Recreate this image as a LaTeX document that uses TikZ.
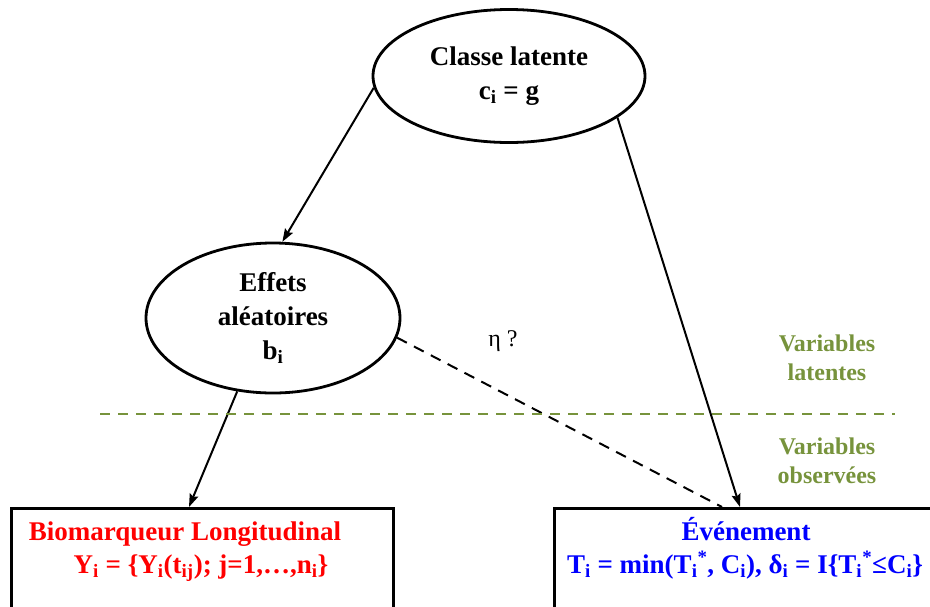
\documentclass[tikz,border=0pt]{standalone}
\usepackage{fontspec}
\setmainfont{Liberation Serif}
\usetikzlibrary{arrows.meta,positioning,shapes.geometric,calc}
\definecolor{biored}{RGB}{255,0,0}
\definecolor{evtblue}{RGB}{0,0,255}
\definecolor{latgreen}{RGB}{119,147,60}

\begin{document}
\begin{tikzpicture}[x=1pt,y=-1pt,
  latent/.style={ellipse, draw, line width=2.8pt, inner sep=0pt, align=center,
    font=\fontsize{27}{34}\selectfont\bfseries},
  obsbox/.style={rectangle, draw, line width=3.2pt, inner sep=0pt},
  link/.style={line width=2pt, -{Stealth[length=13pt,width=9pt,inset=2pt]}},
  boxtext/.style={anchor=base, font=\fontsize{27}{33}\selectfont\bfseries},
  vartext/.style={text=latgreen, align=center, font=\fontsize{24}{29}\selectfont\bfseries}]
\useasboundingbox (0,0) rectangle (930,606);
\clip (0,0) rectangle (930,606);

% variables latentes
\node[latent, minimum width=272pt, minimum height=133pt] (classe) at (509,76)
  {Classe latente\\c\textsubscript{i} = g};
\node[latent, minimum width=254pt, minimum height=150pt] (effets) at (273,318)
  {Effets\\aléatoires\\b\textsubscript{i}};

% variables observees
\node[obsbox, anchor=north west, minimum width=382pt, minimum height=140pt] (biom) at (10,507) {};
\node[obsbox, anchor=north west, minimum width=420pt, minimum height=140pt] (event) at (553,507) {};
\node[boxtext, text=biored] (biomtitle) at (185,540) {Biomarqueur Longitudinal};
\node[boxtext, text=biored] (biomformula) at (201,573)
  {Y\textsubscript{i} = \{Y\textsubscript{i}(t\textsubscript{ij}); j=1,…,n\textsubscript{i}\}};
\node[boxtext, text=evtblue] (eventtitle) at (746,540) {Événement};
\node[boxtext, text=evtblue] (eventformula) at (745,573)
  {T\textsubscript{i} = min(T\textsubscript{i}\textsuperscript{*}, C\textsubscript{i}), δ\textsubscript{i} = I\{T\textsubscript{i}\textsuperscript{*}≤C\textsubscript{i}\}};

% liens
\draw[link] (classe.185) -- (effets.83);
\draw[link] (classe.-21) -- ([xshift=187pt]event.north west);
\draw[link] (effets.244) -- ([xshift=179pt]biom.north west);
\draw[line width=2pt, dash pattern=on 11pt off 8pt] (effets.-9) -- ([xshift=169pt]event.north west);
\node[font=\fontsize{24}{28}\selectfont] (eta) at (503,341) {η ?};

% separation latent / observe
\draw[latgreen, line width=2.8pt, dash pattern=on 10pt off 8pt] (100,414) -- (895,414);
\node[vartext] (latlabel) at (827,358) {Variables\\latentes};
\node[vartext] (obslabel) at (827,461) {Variables\\observées};
\end{tikzpicture}
\end{document}
